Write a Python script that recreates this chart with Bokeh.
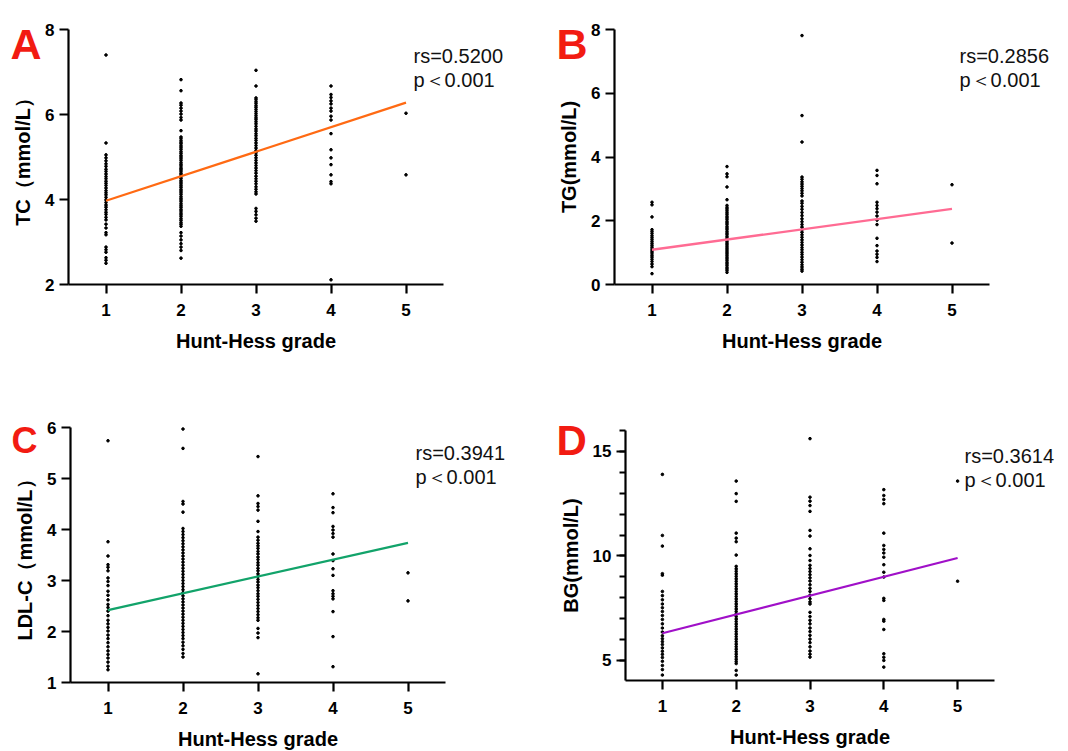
from bokeh.plotting import figure
from bokeh.layouts import row, column
from bokeh.models import Range1d, FixedTicker, Label
from bokeh.embed import file_html
from bokeh.resources import INLINE

grades = [1, 2, 3, 4, 5]
grade_ticks = [1, 2, 3, 4, 5]

# ---- Panel A: TC ----
tc_g1 = [7.40, 5.33, 5.05, 4.98, 4.91, 4.84, 4.78, 4.71, 4.66, 4.60, 4.54, 4.49, 4.43, 4.38, 4.33, 4.27, 4.21, 4.16,
         4.11, 4.05, 3.99, 3.93, 3.87, 3.82, 3.76, 3.70, 3.65, 3.58, 3.52, 3.42, 3.33, 3.22, 3.17, 2.88, 2.82, 2.76,
         2.63, 2.57, 2.50]
tc_g2 = [6.82, 6.56, 6.27, 6.22, 6.15, 6.08, 6.01, 5.93, 5.87, 5.62, 5.47, 5.43, 5.38, 5.34, 5.31, 5.26, 5.22, 5.18,
         5.13, 5.09, 5.04, 5.00, 4.96, 4.92, 4.87, 4.83, 4.79, 4.74, 4.71, 4.67, 4.62, 4.58, 4.54, 4.50, 4.45, 4.41,
         4.37, 4.33, 4.29, 4.24, 4.20, 4.16, 4.12, 4.07, 4.03, 3.99, 3.95, 3.90, 3.86, 3.82, 3.77, 3.73, 3.68, 3.64,
         3.60, 3.55, 3.51, 3.46, 3.42, 3.37, 3.22, 3.14, 3.05, 2.96, 2.88, 2.80, 2.62]
tc_g3 = [7.04, 6.67, 6.39, 6.35, 6.30, 6.26, 6.21, 6.17, 6.12, 6.07, 6.02, 5.97, 5.92, 5.88, 5.83, 5.78, 5.72, 5.66,
         5.61, 5.55, 5.50, 5.44, 5.39, 5.33, 5.27, 5.21, 5.15, 5.10, 5.04, 4.98, 4.92, 4.86, 4.80, 4.74, 4.68, 4.62,
         4.55, 4.49, 4.43, 4.37, 4.30, 4.24, 4.18, 4.13, 3.79, 3.72, 3.64, 3.56, 3.49]
tc_g4 = [6.67, 6.47, 6.40, 6.32, 6.25, 6.15, 6.08, 5.96, 5.87, 5.55, 5.17, 4.98, 4.82, 4.58, 4.42, 4.37, 2.11]
tc_g5 = [6.03, 4.58]
tc_fit = [3.97, 6.28]
tc_yticks = [2, 4, 6, 8]

# ---- Panel B: TG ----
tg_g1 = [2.58, 2.50, 2.12, 1.72, 1.66, 1.60, 1.53, 1.47, 1.41, 1.35, 1.29, 1.23, 1.17, 1.11, 1.05, 0.99, 0.92, 0.86,
         0.79, 0.72, 0.64, 0.56, 0.34]
tg_g2 = [3.70, 3.47, 3.38, 3.06, 2.66, 2.48, 2.42, 2.37, 2.31, 2.25, 2.20, 2.14, 2.09, 2.04, 1.98, 1.93, 1.88, 1.82,
         1.77, 1.72, 1.66, 1.61, 1.56, 1.50, 1.45, 1.40, 1.34, 1.29, 1.24, 1.18, 1.13, 1.08, 1.02, 0.97, 0.92, 0.86,
         0.81, 0.76, 0.70, 0.65, 0.60, 0.54, 0.49, 0.44, 0.38]
tg_g3 = [7.81, 5.30, 4.47, 3.37, 3.30, 3.22, 3.15, 3.08, 3.01, 2.94, 2.86, 2.78, 2.62, 2.55, 2.45, 2.36, 2.26, 2.16,
         2.06, 1.97, 1.88, 1.80, 1.72, 1.64, 1.56, 1.48, 1.40, 1.32, 1.24, 1.16, 1.09, 1.01, 0.94, 0.86, 0.78, 0.70,
         0.62, 0.55, 0.48, 0.42]
tg_g4 = [3.58, 3.42, 3.16, 2.58, 2.48, 2.38, 2.27, 2.15, 2.02, 1.88, 1.45, 1.22, 1.05, 0.95, 0.85, 0.72]
tg_g5 = [3.13, 1.30]
tg_fit = [1.09, 2.37]
tg_yticks = [0, 2, 4, 6, 8]

# ---- Panel C: LDL-C ----
ldl_g1 = [5.74, 3.76, 3.48, 3.31, 3.26, 3.19, 3.05, 2.98, 2.90, 2.79, 2.71, 2.62, 2.53, 2.47, 2.40, 2.31, 2.22, 2.15,
          2.08, 2.01, 1.93, 1.86, 1.78, 1.70, 1.62, 1.55, 1.48, 1.40, 1.32, 1.25]
ldl_g2 = [5.97, 5.59, 4.55, 4.50, 4.34, 4.02, 3.96, 3.90, 3.84, 3.78, 3.72, 3.66, 3.60, 3.54, 3.48, 3.42, 3.36, 3.30,
          3.24, 3.18, 3.12, 3.06, 3.00, 2.94, 2.88, 2.82, 2.76, 2.70, 2.64, 2.58, 2.52, 2.46, 2.40, 2.34, 2.28, 2.22,
          2.16, 2.10, 2.04, 1.98, 1.92, 1.86, 1.79, 1.72, 1.65, 1.57, 1.50]
ldl_g3 = [5.43, 4.66, 4.51, 4.45, 4.38, 4.16, 3.96, 3.85, 3.79, 3.73, 3.68, 3.63, 3.57, 3.52, 3.46, 3.41, 3.35, 3.30,
          3.24, 3.19, 3.13, 3.08, 3.02, 2.97, 2.91, 2.86, 2.80, 2.74, 2.69, 2.63, 2.57, 2.51, 2.45, 2.39, 2.33, 2.27,
          2.22, 2.06, 1.97, 1.88, 1.17]
ldl_g4 = [4.70, 4.43, 4.33, 4.06, 3.99, 3.92, 3.85, 3.52, 3.39, 3.23, 3.10, 2.80, 2.74, 2.69, 2.64, 2.39, 1.90, 1.31]
ldl_g5 = [3.15, 2.60]
ldl_fit = [2.42, 3.74]
ldl_yticks = [1, 2, 3, 4, 5, 6]

# ---- Panel D: BG ----
bg_g1 = [13.90, 10.98, 10.47, 9.15, 9.08, 8.30, 8.10, 7.90, 7.70, 7.52, 7.34, 7.15, 6.96, 6.75, 6.55, 6.36, 6.18, 6.04,
         5.90, 5.76, 5.60, 5.44, 5.29, 5.14, 4.96, 4.76, 4.56, 4.30]
bg_g2 = [13.58, 12.98, 12.61, 11.09, 10.85, 10.68, 10.04, 9.50, 9.38, 9.26, 9.14, 9.02, 8.90, 8.78, 8.66, 8.54, 8.42,
         8.30, 8.18, 8.06, 7.94, 7.82, 7.70, 7.58, 7.46, 7.34, 7.22, 7.10, 6.98, 6.86, 6.74, 6.62, 6.50, 6.38, 6.26,
         6.14, 6.02, 5.90, 5.78, 5.66, 5.54, 5.42, 5.30, 5.18, 5.06, 4.95, 4.85, 4.52, 4.30]
bg_g3 = [15.61, 12.81, 12.62, 12.41, 12.13, 11.22, 10.95, 10.34, 10.02, 9.78, 9.55, 9.40, 9.25, 9.10, 8.95, 8.80, 8.62,
         8.45, 8.30, 8.12, 7.95, 7.80, 7.70, 7.30, 7.10, 6.92, 6.75, 6.55, 6.38, 6.20, 6.02, 5.85, 5.65, 5.45, 5.30,
         5.16]
bg_g4 = [13.17, 12.89, 12.70, 12.50, 11.09, 10.50, 10.31, 10.14, 9.94, 9.58, 9.22, 8.99, 7.97, 7.87, 6.96, 6.88, 6.48,
         5.32, 5.15, 5.00, 4.68]
bg_g5 = [13.58, 8.79]
bg_fit = [6.30, 9.90]
bg_yticks = [5, 10, 15]
bg_minor = [5, 6, 7, 8, 9, 10, 11, 12, 13, 14, 15, 16]

FONT = "Liberation Sans"


def make_panel(fx, fy, W, H, fl, ft, fw, fh, yr, yticks, groups, fit, color,
               ylabel, letter, letter_pos, letter_size, rs_text, rs_pos, minor=None):
    kx = 5.0 / fw
    ky = (yr[1] - yr[0]) / fh

    def dx(px):
        return 0.5 + (px - fl) * kx

    def dy(py):
        return yr[1] - (py - ft) * ky

    p = figure(frame_width=W, frame_height=H,
               min_border_left=0, min_border_right=0, min_border_top=0, min_border_bottom=0,
               x_range=Range1d(dx(fx), dx(fx + W)), y_range=Range1d(dy(fy + H), dy(fy)),
               output_backend="svg", toolbar_location=None)

    xs, ys = [], []
    for g, vals in zip(grades, groups):
        xs += [g] * len(vals)
        ys += vals
    p.scatter(xs, ys, size=2.6, color="black", marker="circle")
    p.line([grades[0], grades[-1]], fit, line_color=color, line_width=2.3)

    p.xgrid.visible = False
    p.ygrid.visible = False
    p.outline_line_color = None
    p.background_fill_color = "white"
    p.border_fill_color = "white"

    for ax in (p.xaxis[0], p.yaxis[0]):
        ax.axis_line_width = 2.2
        ax.axis_line_color = "black"
        ax.major_tick_line_width = 2.2
        ax.major_tick_line_color = "black"
        ax.major_tick_out = 9
        ax.major_tick_in = 0
        ax.minor_tick_out = 0
        ax.minor_tick_in = 0
        ax.major_label_text_font = FONT
        ax.major_label_text_font_style = "bold"
        ax.major_label_text_font_size = "17px"
        ax.major_label_text_color = "black"
        ax.axis_label_text_font = FONT
        ax.axis_label_text_font_style = "bold"
        ax.axis_label_text_font_size = "20px"
        ax.axis_label_text_color = "black"

    p.xaxis.fixed_location = yr[0]
    p.xaxis.bounds = (0.5, 5.5)
    p.xaxis.ticker = FixedTicker(ticks=grade_ticks)
    p.xaxis.axis_label = "Hunt-Hess grade"
    p.xaxis.major_label_standoff = 10
    p.xaxis.axis_label_standoff = 11

    p.yaxis.fixed_location = 0.5
    p.yaxis.bounds = (yr[0], yr[1])
    if minor is not None:
        p.yaxis.ticker = FixedTicker(ticks=yticks, minor_ticks=minor)
        p.yaxis.minor_tick_out = 6
        p.yaxis.minor_tick_line_width = 2
        p.yaxis.minor_tick_line_color = "black"
    else:
        p.yaxis.ticker = FixedTicker(ticks=yticks)
    p.yaxis.axis_label = ylabel
    p.yaxis.major_label_standoff = 5
    p.yaxis.axis_label_standoff = 8

    p.add_layout(Label(x=dx(letter_pos[0]), y=dy(letter_pos[1]), text=letter,
                       text_font=FONT, text_font_style="bold", text_font_size=letter_size,
                       text_color="#f21b12", text_align="left", text_baseline="alphabetic"))
    p.add_layout(Label(x=dx(rs_pos[0]), y=dy(rs_pos[1]), text=rs_text,
                       text_font=FONT, text_font_size="20px", text_color="#111111",
                       text_align="left", text_baseline="alphabetic"))
    p.add_layout(Label(x=dx(rs_pos[0]), y=dy(rs_pos[1] + 24), text="p\uff1c0.001",
                       text_font=FONT, text_font_size="20px", text_color="#111111",
                       text_align="left", text_baseline="alphabetic"))
    return p


pA = make_panel(0, 0, 534, 375, 68, 29, 375, 255, (2, 8), tc_yticks,
                [tc_g1, tc_g2, tc_g3, tc_g4, tc_g5], tc_fit, "#ff6a13",
                "TC\uff08mmol/L\uff09", "A", (10, 43), "43px", "rs=0.5200", (413, 55))
pB = make_panel(534, 0, 532, 375, 614, 29, 375, 255, (0, 8), tg_yticks,
                [tg_g1, tg_g2, tg_g3, tg_g4, tg_g5], tg_fit, "#ff6b93",
                "TG(mmol/L)", "B", (556, 43), "43px", "rs=0.2856", (959, 55))
pC = make_panel(0, 375, 534, 375, 70, 427, 375, 255, (1, 6), ldl_yticks,
                [ldl_g1, ldl_g2, ldl_g3, ldl_g4, ldl_g5], ldl_fit, "#12a36a",
                "LDL-C\uff08mmol/L\uff09", "C", (11, 440), "36px", "rs=0.3941", (415, 452))
pD = make_panel(534, 375, 532, 375, 625, 430, 369, 250, (4.04, 16.0), bg_yticks,
                [bg_g1, bg_g2, bg_g3, bg_g4, bg_g5], bg_fit, "#a010c8",
                "BG(mmol/L)", "D", (556, 440), "42px", "rs=0.3614", (964, 455), minor=bg_minor)

layout = column(row(pA, pB), row(pC, pD))
open("out.html", "w").write(file_html(layout, INLINE))
